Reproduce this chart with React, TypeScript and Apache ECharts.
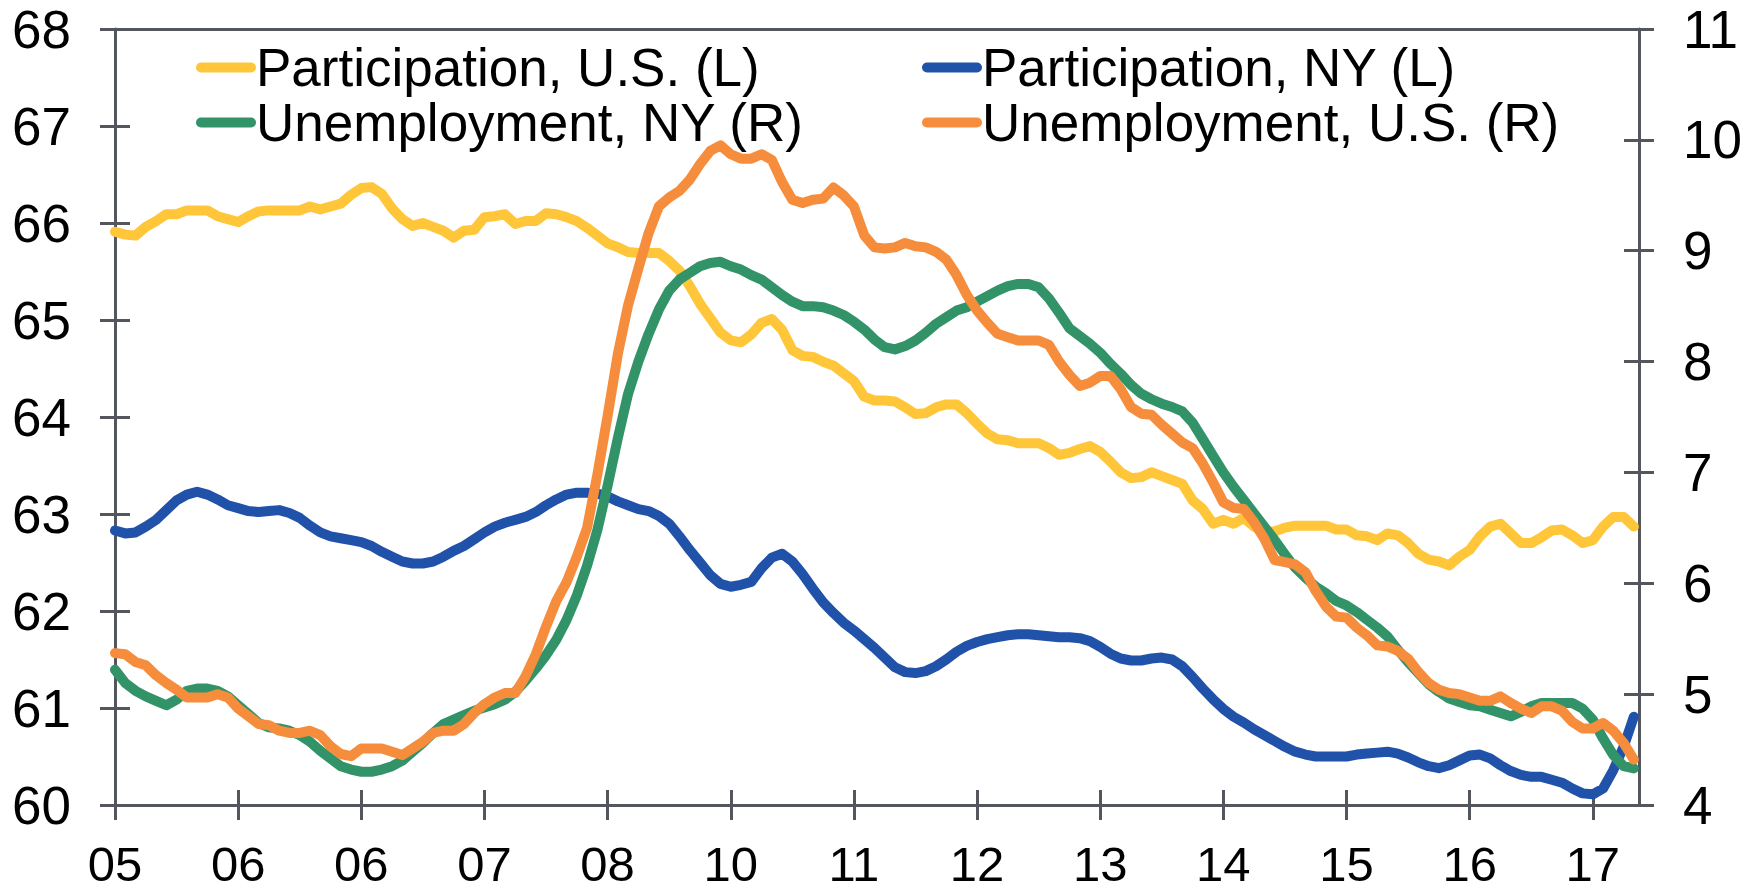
import React, { useEffect, useRef } from "react";
import * as echarts from "echarts";

// Monthly observations, index 0 = first month shown
const participationUS: number[] = [
  65.91, 65.88, 65.87, 65.96, 66.02, 66.09, 66.09, 66.13, 66.13, 66.13, 66.07, 66.04, 66.01, 66.07, 66.12, 66.13,
  66.13, 66.13, 66.13, 66.17, 66.14, 66.17, 66.2, 66.29, 66.36, 66.37, 66.3, 66.15, 66.04, 65.97, 66.0, 65.96,
  65.92, 65.85, 65.92, 65.93, 66.06, 66.07, 66.09, 65.99, 66.02, 66.02, 66.1, 66.09, 66.06, 66.02, 65.95, 65.87,
  65.79, 65.75, 65.7, 65.69, 65.69, 65.69, 65.61, 65.51, 65.35, 65.17, 65.02, 64.87, 64.79, 64.77,
  64.85, 64.97, 65.01, 64.9, 64.69, 64.63, 64.62, 64.57, 64.53, 64.45, 64.37, 64.21, 64.17, 64.17, 64.16, 64.1,
  64.03, 64.04, 64.1, 64.13, 64.13, 64.04, 63.93, 63.83, 63.77, 63.76, 63.73, 63.73, 63.73, 63.68, 63.61, 63.63,
  63.67, 63.7, 63.64, 63.54, 63.43, 63.37, 63.38, 63.43, 63.39, 63.35, 63.31, 63.14, 63.05, 62.9, 62.94, 62.9,
  62.96, 62.87, 62.82, 62.82, 62.86, 62.88, 62.88, 62.88, 62.88, 62.84, 62.84, 62.78, 62.77, 62.73, 62.8,
  62.78, 62.7, 62.59, 62.53, 62.51, 62.47, 62.56, 62.63, 62.77, 62.87, 62.9, 62.8, 62.7, 62.7, 62.76, 62.83,
  62.84, 62.78, 62.7, 62.73, 62.87, 62.97, 62.97, 62.87,
];

const participationNY: number[] = [
  62.83, 62.8, 62.81, 62.87, 62.94, 63.04, 63.14, 63.2, 63.23, 63.2, 63.15, 63.09, 63.06, 63.03, 63.02, 63.03,
  63.04, 63.01, 62.96, 62.88, 62.81, 62.77, 62.75, 62.73, 62.71, 62.67, 62.61, 62.56, 62.51, 62.49, 62.49, 62.51,
  62.56, 62.62, 62.67, 62.74, 62.81, 62.87, 62.91, 62.94, 62.97, 63.02, 63.09, 63.15, 63.2, 63.22, 63.22, 63.21,
  63.18, 63.13, 63.09, 63.05, 63.03, 62.98, 62.9, 62.77, 62.63, 62.5, 62.37, 62.28, 62.25, 62.27,
  62.3, 62.44, 62.55, 62.59, 62.51, 62.38, 62.23, 62.09, 61.98, 61.88, 61.8, 61.71, 61.62, 61.52, 61.42, 61.37,
  61.36, 61.38, 61.43, 61.5, 61.58, 61.64, 61.68, 61.71, 61.73, 61.75, 61.76, 61.76, 61.75, 61.74, 61.73, 61.73,
  61.72, 61.69, 61.63, 61.56, 61.51, 61.49, 61.49, 61.51, 61.52, 61.5, 61.43, 61.32, 61.2, 61.09, 60.99, 60.91,
  60.85, 60.78, 60.72, 60.66, 60.6, 60.55, 60.52, 60.5, 60.5, 60.5, 60.5, 60.52, 60.53, 60.54, 60.55,
  60.53, 60.49, 60.44, 60.4, 60.38, 60.41, 60.46, 60.51, 60.52, 60.48, 60.41, 60.35, 60.31, 60.29, 60.29, 60.26,
  60.23, 60.17, 60.12, 60.11, 60.17, 60.36, 60.6, 60.91,
];

const unemploymentNY: number[] = [
  5.22, 5.1, 5.03, 4.98, 4.94, 4.9, 4.95, 5.03, 5.05, 5.05, 5.03, 4.98, 4.9, 4.82, 4.74, 4.7,
  4.69, 4.67, 4.63, 4.57, 4.49, 4.42, 4.35, 4.32, 4.3, 4.3, 4.32, 4.35, 4.4, 4.48, 4.56, 4.65,
  4.73, 4.77, 4.81, 4.85, 4.88, 4.91, 4.95, 5.02, 5.12, 5.23, 5.35, 5.49, 5.67, 5.89, 6.16, 6.48,
  6.88, 7.31, 7.71, 8.0, 8.25, 8.47, 8.64, 8.74, 8.8, 8.86, 8.89, 8.9, 8.86, 8.83,
  8.78, 8.74, 8.67, 8.6, 8.54, 8.5, 8.5, 8.49, 8.46, 8.42, 8.36, 8.29, 8.2, 8.13, 8.11, 8.14,
  8.19, 8.26, 8.34, 8.4, 8.46, 8.49, 8.54, 8.59, 8.64, 8.68, 8.7, 8.7, 8.67, 8.57, 8.44, 8.3,
  8.23, 8.16, 8.08, 7.98, 7.89, 7.79, 7.71, 7.66, 7.62, 7.59, 7.55, 7.45, 7.3, 7.15, 7.0, 6.87,
  6.75, 6.63, 6.51, 6.39, 6.26, 6.14, 6.05, 5.97, 5.91, 5.84, 5.8, 5.74, 5.67, 5.6, 5.52,
  5.4, 5.29, 5.19, 5.09, 5.02, 4.96, 4.93, 4.9, 4.89, 4.86, 4.83, 4.8, 4.84, 4.89, 4.92, 4.92,
  4.92, 4.92, 4.87, 4.77, 4.6, 4.45, 4.35, 4.33,
];

const unemploymentUS: number[] = [
  5.37, 5.36, 5.29, 5.26, 5.17, 5.1, 5.04, 4.97, 4.97, 4.97, 5.0, 4.97, 4.87, 4.8, 4.73, 4.72,
  4.67, 4.65, 4.65, 4.67, 4.63, 4.53, 4.46, 4.44, 4.51, 4.51, 4.51, 4.48, 4.45, 4.51, 4.57, 4.65,
  4.67, 4.67, 4.73, 4.83, 4.91, 4.97, 5.01, 5.01, 5.16, 5.36, 5.61, 5.84, 6.01, 6.24, 6.5, 6.98,
  7.51, 8.07, 8.51, 8.84, 9.16, 9.4, 9.48, 9.54, 9.64, 9.78, 9.9, 9.95, 9.87, 9.83,
  9.83, 9.87, 9.82, 9.62, 9.46, 9.43, 9.46, 9.47, 9.57, 9.5, 9.4, 9.14, 9.03, 9.02, 9.03, 9.07,
  9.04, 9.03, 8.99, 8.92, 8.78, 8.6, 8.46, 8.35, 8.25, 8.22, 8.19, 8.19, 8.19, 8.15, 8.0, 7.88,
  7.78, 7.81, 7.87, 7.87, 7.75, 7.59, 7.53, 7.52, 7.43, 7.35, 7.27, 7.22, 7.08, 6.91, 6.73, 6.68,
  6.67, 6.55, 6.4, 6.21, 6.19, 6.17, 6.1, 5.93, 5.79, 5.7, 5.69, 5.6, 5.53, 5.44, 5.43,
  5.39, 5.32, 5.2, 5.1, 5.04, 5.01, 5.0, 4.97, 4.94, 4.94, 4.98, 4.92, 4.87, 4.83, 4.89, 4.89,
  4.85, 4.75, 4.69, 4.69, 4.74, 4.67, 4.56, 4.41,
];

// One label every 12 months, as printed on the original axis
const tickLabels: string[] = ["05", "06", "06", "07", "08", "10", "11", "12", "13", "14", "15", "16", "17"];
const MONTHS_PER_TICK = 12;

const seriesNames = [
  "Participation, U.S. (L)",
  "Participation, NY (L)",
  "Unemployment, NY (R)",
  "Unemployment, U.S. (R)",
];

const FONT = "'Liberation Sans', Arial, Helvetica, sans-serif";
const AXIS_COLOR = "#53575d";
const COLORS = ["#FFC63A", "#2152A9", "#339368", "#F58D3D"];

const toPairs = (arr: number[]) => arr.map((v, i) => [i, v]);

export default function App() {
  const ref = useRef<HTMLDivElement>(null);

  useEffect(() => {
    if (!ref.current) return;
    const chart = echarts.init(ref.current, null, { renderer: "svg" });

    const tickPos = tickLabels.map((_, k) => k * MONTHS_PER_TICK);
    const xMax = participationUS.length - 0.5;

    const axisLineStyle = { color: AXIS_COLOR, width: 3 };
    const tickLineStyle = { color: AXIS_COLOR, width: 3 };
    const labelStyle = { fontSize: 53, color: "#000", fontFamily: FONT };
    const capsule = "path://M5,0 L55,0 A5,5 0 0 1 55,10 L5,10 A5,5 0 0 1 5,0 Z";

    const legendBase = {
      orient: "vertical",
      top: 40,
      padding: 0,
      itemGap: 0,
      itemWidth: 60,
      itemHeight: 10,
      icon: capsule,
      selectedMode: false,
      textStyle: { fontSize: 53, lineHeight: 55, color: "#000", fontFamily: FONT, padding: [0, 0, 0, -5] },
    };

    const data = [participationUS, participationNY, unemploymentNY, unemploymentUS];
    const yIdx = [0, 0, 1, 1];

    const option: any = {
      animation: false,
      backgroundColor: "#fff",
      grid: { left: 115, right: 120, top: 29, bottom: 88, containLabel: false },
      legend: [
        { ...legendBase, left: 196, data: [seriesNames[0], seriesNames[2]] },
        { ...legendBase, left: 922, data: [seriesNames[1], seriesNames[3]] },
      ],
      xAxis: [
        {
          type: "value",
          position: "bottom",
          min: 0,
          max: xMax,
          axisLine: { show: true, onZero: false, lineStyle: axisLineStyle },
          axisTick: { show: true, inside: false, length: 15, lineStyle: tickLineStyle, customValues: tickPos },
          axisLabel: {
            show: true,
            margin: 39,
            lineHeight: 40,
            fontSize: 49,
            color: "#000",
            fontFamily: FONT,
            customValues: tickPos,
            formatter: (v: number) => tickLabels[Math.round(v / MONTHS_PER_TICK)] ?? "",
          },
          splitLine: { show: false },
        },
        {
          type: "value",
          position: "bottom",
          min: 0,
          max: xMax,
          axisLine: { show: false, onZero: false },
          axisTick: { show: true, inside: true, length: 15, lineStyle: tickLineStyle, customValues: tickPos },
          axisLabel: { show: false },
          splitLine: { show: false },
        },
        {
          type: "value",
          position: "top",
          min: 0,
          max: xMax,
          axisLine: { show: true, onZero: false, lineStyle: axisLineStyle },
          axisTick: { show: false },
          axisLabel: { show: false },
          splitLine: { show: false },
        },
      ],
      yAxis: [
        {
          type: "value",
          position: "left",
          min: 60,
          max: 68,
          interval: 1,
          axisLine: { show: true, onZero: false, lineStyle: axisLineStyle },
          axisTick: { show: true, inside: false, length: 15, lineStyle: tickLineStyle },
          axisLabel: { show: true, margin: 44, ...labelStyle },
          splitLine: { show: false },
        },
        {
          type: "value",
          position: "right",
          min: 4,
          max: 11,
          interval: 1,
          axisLine: { show: true, onZero: false, lineStyle: axisLineStyle },
          axisTick: { show: true, inside: false, length: 15, lineStyle: tickLineStyle },
          axisLabel: { show: true, margin: 44, ...labelStyle },
          splitLine: { show: false },
        },
        {
          type: "value",
          position: "left",
          min: 60,
          max: 68,
          interval: 1,
          axisLine: { show: false, onZero: false },
          axisTick: { show: true, inside: true, length: 15, lineStyle: tickLineStyle },
          axisLabel: { show: false },
          splitLine: { show: false },
        },
        {
          type: "value",
          position: "right",
          min: 4,
          max: 11,
          interval: 1,
          axisLine: { show: false, onZero: false },
          axisTick: { show: true, inside: true, length: 15, lineStyle: tickLineStyle },
          axisLabel: { show: false },
          splitLine: { show: false },
        },
      ],
      series: data.map((arr, k) => ({
        name: seriesNames[k],
        type: "line",
        xAxisIndex: 0,
        yAxisIndex: yIdx[k],
        data: toPairs(arr),
        showSymbol: false,
        symbol: "none",
        color: COLORS[k],
        itemStyle: { color: COLORS[k] },
        lineStyle: { color: COLORS[k], width: 10, cap: "round", join: "round" },
        z: 2 + k,
      })),
    };

    chart.setOption(option);
    return () => chart.dispose();
  }, []);

  return (
    <div
      ref={ref}
      style={{ position: "absolute", left: 0, top: 0, width: 1759, height: 893, background: "#fff" }}
    />
  );
}
